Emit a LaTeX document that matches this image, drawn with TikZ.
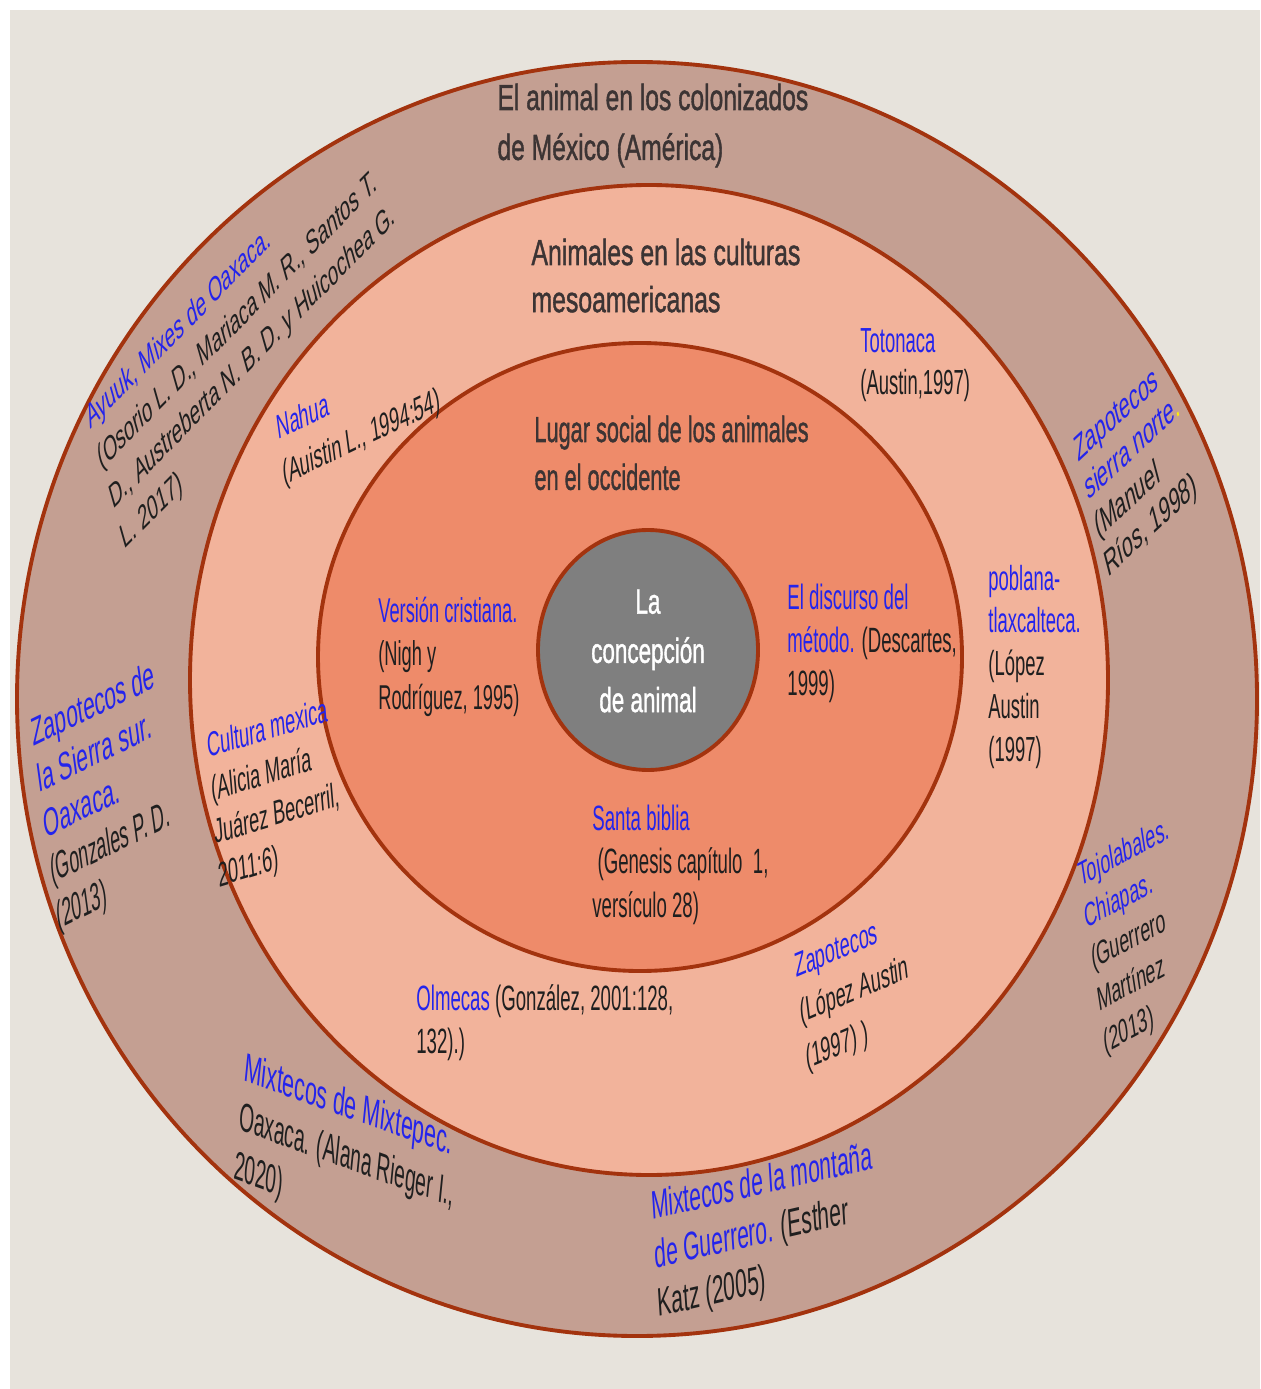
\documentclass[tikz,border=0pt]{standalone}
\usepackage{fontspec}
\setmainfont{Liberation Sans}
\newfontfamily\headfont[FakeBold=1.5]{Liberation Sans}
\definecolor{paper}{HTML}{E7E3DC}
\definecolor{ringout}{HTML}{C49F92}
\definecolor{ringmid}{HTML}{F2B39B}
\definecolor{ringin}{HTML}{EE8B6A}
\definecolor{core}{HTML}{7F7F7F}
\definecolor{edge}{HTML}{A3330E}
\definecolor{refblue}{HTML}{2424EC}
\definecolor{heading}{HTML}{3C3434}
\newcommand{\blu}[1]{\textcolor{refblue}{#1}}
\newcommand{\nar}[2]{{\addfontfeatures{FakeStretch=#1}#2}}

\begin{document}
\begin{tikzpicture}[x=0.01cm, y=-0.01cm,
    ring/.style={draw=edge, line width=1.1pt},
    txt/.style={inner sep=0pt, align=left, anchor=base west, text=black!88},
    % xscale, size, leading, lines
    head/.style n args={4}{txt, text=heading, xscale=#1, yshift={(1-#4)*#3pt}, font=\headfont\fontsize{#2}{#3}\selectfont},
    % angle, size, leading, lines
    cited/.style n args={4}{txt, xscale=0.53, rotate=#1, yshift={(1-#4)*#3pt}, font=\fontsize{#2}{#3}\selectfont}]
    \useasboundingbox (0,0) rectangle (1260,1389);
    \fill[white] (0,0) rectangle (1260,1389);
    \fill[paper] (10,10) rectangle (1260,1389);

    % rings
    \draw[ring, fill=ringout] (637,699) ellipse [x radius=620, y radius=637];
    \draw[ring, fill=ringmid] (649,680) ellipse [x radius=459, y radius=495];
    \draw[ring, fill=ringin] (640,657) ellipse [x radius=322, y radius=314];
    \draw[ring, fill=core] (648,650) ellipse [x radius=110, y radius=120];

    % headings
    \node[head={0.68}{10.3}{14.2}{2}] (colonizados) at (497,110) {El animal en los colonizados\\de México (América)};
    \node[head={0.685}{10.3}{13.4}{2}] (meso) at (531,265) {Animales en las culturas\\mesoamericanas};
    \node[head={0.6}{10.3}{13.6}{2}] (occidente) at (534,442) {Lugar social de los animales\\en el occidente};
    \node[head={0.645}{9.9}{14}{1}, text=white, align=center, anchor=center, yshift=0pt] (concepcion) at (648,651) {La\\concepción\\de animal};

    % inner ring
    \node[cited={0}{9.8}{12.5}{3}] (cristiana) at (378,622) {\blu{Versión cristiana.}\\(Nigh y\\Rodríguez, 1995)};
    \node[cited={0}{10}{12.3}{3}] (metodo) at (787,609) {\blu{El discurso del}\\\blu{método.} (Descartes,\\1999)};
    \node[cited={0}{10}{12.5}{3}] (biblia) at (592,830) {\blu{Santa biblia}\\\ (Genesis capítulo\ \ 1,\\versículo 28)};

    % middle ring
    \node[cited={0}{9.9}{11.9}{2}] (totonaca) at (860,353) {\blu{Totonaca}\\(Austin,1997)};
    \node[cited={0}{9.9}{12.2}{5}] (poblana) at (988,590) {\blu{poblana-}\\\blu{tlaxcalteca.}\\(López\\Austin\\(1997)};
    \node[cited={0}{10}{12.5}{2}] (olmecas) at (416,1010) {\blu{Olmecas} (González, 2001:128,\\132).)};
    \node[cited={14.2}{9.7}{13.2}{2}] (nahua) at (278,440) {\blu{Nahua}\\(Auistin L., 1994:54)};
    \node[cited={9.2}{9.8}{12.4}{4}] (mexica) at (208,758) {\blu{Cultura mexica}\\(Alicia María\\Juárez Becerril,\\2011:6)};
    \node[cited={12.7}{9.7}{13.3}{3}] (zapmid) at (796,978) {\blu{Zapotecos}\\(López Austin\\(1997) )};

    % outer ring
    \node[cited={28.3}{9.8}{12.9}{4}] (ayuuk) at (90,430) {\blu{Ayuuk, Mixes de Oaxaca.}\\(Osorio L. D., Mariaca M. R., Santos T.\\D., Austreberta N. B. D. y Huicochea G.\\L. 2017)};
    \node[cited={26.3}{10.4}{12.1}{4}] (norte) at (1078,463) {\blu{Zapotecos}\\\blu{sierra norte}\textcolor{yellow}{.}\\(Manuel\\Ríos, 1998)};
    \node[cited={14.5}{11.2}{13.4}{5}] (sur) at (33,747) {\blu{Zapotecos de}\\\blu{la Sierra sur.}\\\blu{Oaxaca.}\\\nar{0.85}{(Gonzales P. D.}\\\nar{0.85}{(2013)}};
    \node[cited={-10.8}{11.5}{14.3}{3}] (mixtepec) at (243,1080) {\blu{Mixtecos de Mixtepec.}\\\nar{0.9}{Oaxaca. (Alana Rieger I.,}\\\nar{0.9}{2020)}};
    \node[cited={7}{11.3}{13.9}{3}] (montana) at (652,1220) {\blu{Mixtecos de la montaña}\\\blu{de Guerrero.} (Esther\\Katz (2005)};
    \node[cited={16}{9.5}{12.3}{5}] (tojolabales) at (1080,887) {\blu{Tojolabales.}\\\blu{Chiapas.}\\(Guerrero\\Martínez\\(2013)};
\end{tikzpicture}
\end{document}
